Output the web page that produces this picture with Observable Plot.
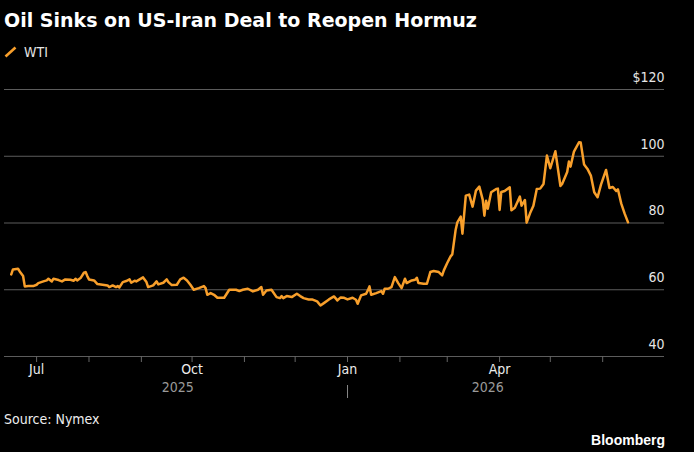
<!DOCTYPE html>
<html>
<head>
<meta charset="utf-8">
<script src="https://cdn.jsdelivr.net/npm/d3@7"></script>
<script src="https://cdn.jsdelivr.net/npm/@observablehq/plot@0.6"></script>
<style>
  html, body { margin: 0; padding: 0; background: #000; }
  body { width: 694px; height: 452px; position: relative; overflow: hidden; }
  #title { position: absolute; left: 4px; top: 9px; font: bold 19px "DejaVu Sans"; line-height: 22px; color: #fff; white-space: nowrap; }
  #legend { position: absolute; left: 4px; top: 44px; font: 14px "DejaVu Sans Condensed", "DejaVu Sans"; line-height: 16px; color: #e6e6e6; display: flex; align-items: center; gap: 7px; }
  #chart { position: absolute; left: 0; top: 70px; }
  #source { position: absolute; left: 4px; top: 411px; font: 14px "DejaVu Sans Condensed", "DejaVu Sans"; line-height: 16px; color: #eee; }
  #brand { position: absolute; right: 29px; top: 432px; font: bold 14px "Liberation Sans"; line-height: 16px; color: #fff; }
</style>
</head>
<body>
<div id="title">Oil Sinks on US-Iran Deal to Reopen Hormuz</div>
<div id="legend"><svg width="13" height="12"><line x1="1.5" y1="10.5" x2="11.5" y2="1.5" stroke="#f89f2b" stroke-width="2.6"/></svg><span>WTI</span></div>
<div id="chart"></div>
<div id="source">Source: Nymex</div>
<div id="brand">Bloomberg</div>
<script>
const dates = [
"2025-06-16","2025-06-17","2025-06-20","2025-06-21","2025-06-23","2025-06-24","2025-06-26","2025-06-29",
"2025-07-01","2025-07-02","2025-07-05","2025-07-07","2025-07-08","2025-07-10","2025-07-11","2025-07-14",
"2025-07-16","2025-07-18","2025-07-21","2025-07-23","2025-07-24","2025-07-25","2025-07-27","2025-07-29",
"2025-07-30","2025-07-31","2025-08-01","2025-08-04","2025-08-06","2025-08-09","2025-08-12","2025-08-13",
"2025-08-15","2025-08-17","2025-08-18","2025-08-19","2025-08-21","2025-08-23","2025-08-25","2025-08-26",
"2025-08-28","2025-08-29","2025-08-31","2025-09-02","2025-09-04","2025-09-05","2025-09-08","2025-09-10",
"2025-09-11","2025-09-14","2025-09-16","2025-09-17","2025-09-19","2025-09-22","2025-09-24","2025-09-26",
"2025-09-28","2025-09-30","2025-10-02","2025-10-05","2025-10-08","2025-10-09","2025-10-10","2025-10-12",
"2025-10-14","2025-10-16","2025-10-20","2025-10-23","2025-10-27","2025-10-29","2025-10-31","2025-11-03",
"2025-11-06","2025-11-09","2025-11-11","2025-11-12","2025-11-14","2025-11-17","2025-11-20","2025-11-22",
"2025-11-23","2025-11-24","2025-11-26","2025-11-29","2025-12-02","2025-12-04","2025-12-06","2025-12-09",
"2025-12-11","2025-12-14","2025-12-16","2025-12-18","2025-12-21","2025-12-24","2025-12-26","2025-12-28",
"2025-12-30","2026-01-01","2026-01-04","2026-01-06","2026-01-07","2026-01-09","2026-01-12","2026-01-13",
"2026-01-14","2026-01-15","2026-01-18","2026-01-21","2026-01-22","2026-01-23","2026-01-25","2026-01-27",
"2026-01-29","2026-01-31","2026-02-02","2026-02-04","2026-02-05","2026-02-08","2026-02-10","2026-02-11",
"2026-02-12","2026-02-15","2026-02-17","2026-02-19","2026-02-21","2026-02-24","2026-02-26","2026-02-27",
"2026-03-01","2026-03-03","2026-03-04","2026-03-06","2026-03-07","2026-03-09","2026-03-10","2026-03-12",
"2026-03-14","2026-03-16","2026-03-18","2026-03-20","2026-03-22","2026-03-23","2026-03-24","2026-03-25",
"2026-03-27","2026-03-30","2026-03-31","2026-04-01","2026-04-02","2026-04-04","2026-04-07","2026-04-08",
"2026-04-10","2026-04-13","2026-04-14","2026-04-16","2026-04-17","2026-04-19","2026-04-21","2026-04-23",
"2026-04-25","2026-04-27","2026-04-29","2026-05-01","2026-05-04","2026-05-07","2026-05-08","2026-05-11",
"2026-05-12","2026-05-13","2026-05-15","2026-05-18","2026-05-19","2026-05-21","2026-05-23","2026-05-25",
"2026-05-27","2026-05-29","2026-05-31","2026-06-03","2026-06-05","2026-06-07","2026-06-09","2026-06-10",
"2026-06-12","2026-06-14","2026-06-16"
];
const wti = [
64.6,66.1,66.3,65.5,64.1,61.0,61.1,61.1,
61.5,62.0,62.5,62.8,63.3,62.5,63.3,62.9,
62.5,63.1,63.0,62.7,63.3,62.8,63.5,65.1,
65.3,64.1,63.1,62.8,61.7,61.5,61.3,60.8,
61.3,60.8,61.1,60.7,62.3,62.6,63.1,62.1,
62.7,62.5,63.1,63.7,62.3,60.8,61.3,62.5,
61.6,62.1,63.1,62.3,61.4,61.5,63.1,63.6,
62.8,61.5,60.0,60.5,61.1,60.5,58.5,59.0,
58.5,57.6,57.6,60.0,60.0,59.6,60.0,60.3,
59.5,60.0,60.8,58.5,59.8,60.0,57.8,57.5,
58.1,57.5,58.1,57.8,58.8,58.1,57.5,57.1,
57.1,56.5,55.3,56.0,57.1,58.0,56.8,57.7,
57.6,57.1,57.6,57.0,55.8,58.3,58.8,59.8,
61.0,58.5,59.0,59.6,58.8,60.3,60.3,60.8,
63.8,62.0,60.5,63.3,62.0,62.8,63.0,63.6,
62.0,61.8,61.8,65.3,65.6,65.3,64.3,65.8,
68.0,70.0,70.6,78.0,80.2,81.9,76.8,88.2,
88.5,84.9,89.7,90.9,87.0,82.2,86.7,84.3,
89.2,90.2,90.3,83.9,89.3,89.6,90.7,83.8,
84.6,87.9,85.2,86.9,80.1,82.9,85.2,90.2,
90.3,91.7,100.2,96.4,101.5,91.1,91.7,95.3,
98.4,96.9,101.4,104.2,104.1,97.5,96.2,94.2,
89.2,87.7,91.5,95.9,90.5,90.8,89.6,90.1,
85.8,82.8,80.2
];
const yTicks = [40, 60, 80, 100, 120];
const yTickLabels = ["40", "60", "80", "100", "$120"];
const monthTicks = ["2025-07-01","2025-08-01","2025-09-01","2025-10-01","2025-11-01","2025-12-01",
                    "2026-01-01","2026-02-01","2026-03-01","2026-04-01","2026-05-01","2026-06-01"];
const monthLabelDates = ["2025-07-01","2025-10-01","2026-01-01","2026-04-01"];
const monthLabels = ["Jul","Oct","Jan","Apr"];
const years = ["2025","2026"];
const xDomain = ["2025-06-12","2026-07-07T14:00:00Z"];

const data = dates.map((d, i) => ({date: new Date(d), price: wti[i]}));
const yearMid = years.map(y => {
  const ds = data.filter(p => p.date.getUTCFullYear() === +y).map(p => +p.date);
  return {year: y, date: new Date((d3.min(ds) + d3.max(ds)) / 2)};
});
const yearBreak = [new Date(years[1] + "-01-01")];

const chart = Plot.plot({
  width: 694,
  height: 340,
  marginTop: 19,
  marginBottom: 54,
  marginLeft: 4,
  marginRight: 30,
  style: {background: "#000", color: "#e6e6e6", fontFamily: "'DejaVu Sans Condensed', 'DejaVu Sans'", fontSize: "14px"},
  x: {type: "utc", domain: xDomain.map(d => new Date(d))},
  y: {domain: [40, 120], axis: null},
  marks: [
    Plot.ruleY(yTicks, {stroke: "#5c5c5c", strokeWidth: 1}),
    Plot.text(yTicks, {y: d => d, text: (d, i) => yTickLabels[i], frameAnchor: "right", textAnchor: "end", dy: -12, fill: "#e6e6e6"}),
    Plot.axisX({ticks: monthTicks.map(d => new Date(d)), tickSize: 6, tickFormat: () => "", stroke: "#666", label: null}),
    Plot.text(monthLabelDates, {x: d => new Date(d), text: (d, i) => monthLabels[i], frameAnchor: "bottom", dy: 17, fill: "#ececec"}),
    Plot.axisX({ticks: yearBreak, tickSize: 13, tickFormat: () => "", stroke: "#888", dy: 29, label: null}),
    Plot.text(yearMid, {x: "date", text: "year", frameAnchor: "bottom", dy: 35, fill: "#9a9a9a"}),
    Plot.line(data, {x: "date", y: "price", stroke: "#f89f2b", strokeWidth: 2.5, strokeLinejoin: "round"})
  ]
});
document.getElementById("chart").appendChild(chart);
</script>
</body>
</html>
